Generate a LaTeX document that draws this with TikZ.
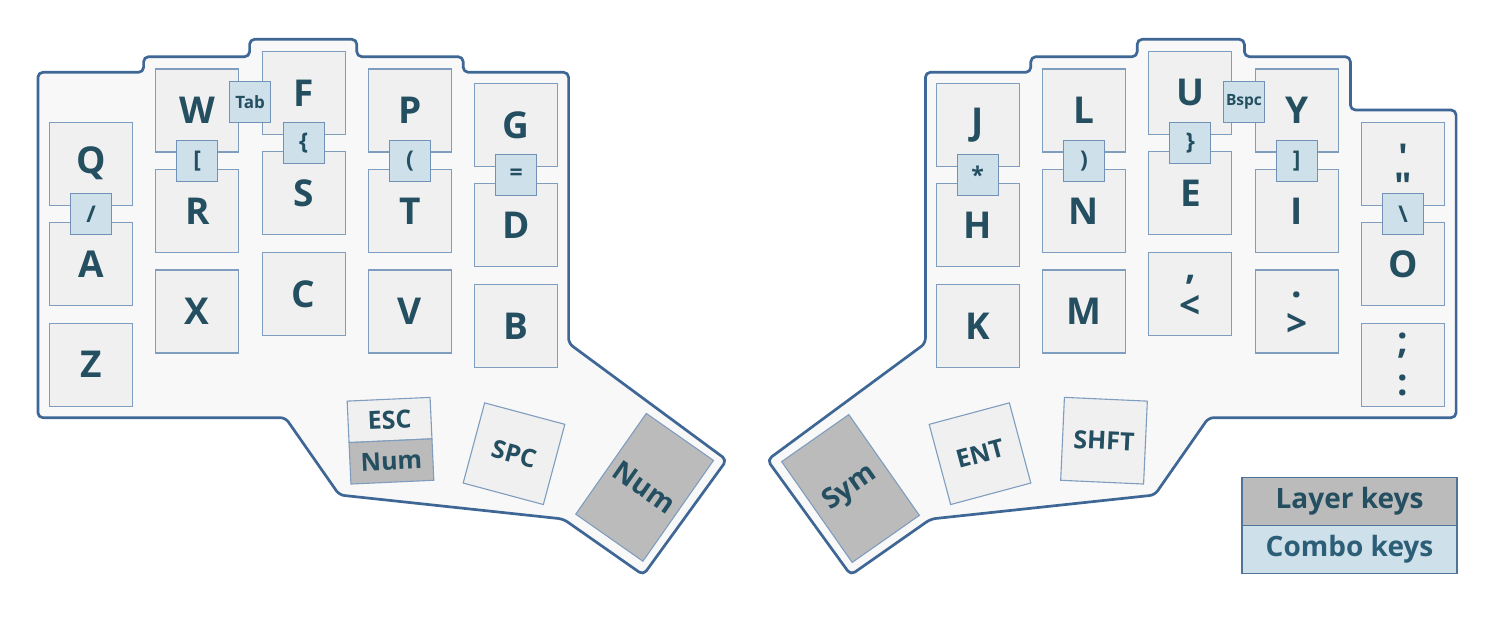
\documentclass[tikz,border=0pt]{standalone}
\usepackage{fontspec}
\newfontfamily\kf{Open Sans}
\newcommand\keysz[1]{\kf\bfseries\fontsize{#1}{#1}\selectfont}
\definecolor{boardfill}{HTML}{F8F8F8}
\definecolor{boardline}{HTML}{3E6795}
\definecolor{keyfill}{HTML}{F0F0F0}
\definecolor{keyline}{HTML}{7F9DBE}
\definecolor{combofill}{HTML}{CEE0EA}
\definecolor{comboline}{HTML}{7192B6}
\definecolor{layerfill}{HTML}{BBBBBB}
\definecolor{txt}{HTML}{244F61}
\definecolor{txtb}{HTML}{2D5E77}
\definecolor{legline}{HTML}{4F7399}
\begin{document}
\begin{tikzpicture}[x=1pt,y=-1pt,
  board/.style={draw=boardline, fill=boardfill, line width=2.7pt, rounded corners=5pt, line join=round},
  key/.style={draw=keyline, fill=keyfill, line width=1.1pt, minimum width=83pt, minimum height=83pt, inner sep=0pt, outer sep=0pt, text=txt, font=\keysz{37}},
  thumb/.style={key, font=\keysz{25}},
  layerkey/.style={key, fill=layerfill, font=\keysz{28}},
  combo/.style={draw=comboline, fill=combofill, line width=1.1pt, minimum width=41pt, minimum height=41pt, inner sep=0pt, text=txt, font=\keysz{23}},
  combosm/.style={combo, font=\keysz{17}},
  combotiny/.style={combo, font=\keysz{15.5}},
  glyph/.style={inner sep=0pt, text=txt, font=\keysz{37}, anchor=base},
  legbox/.style={draw=legline, line width=1.3pt, minimum width=215pt, minimum height=48pt, inner sep=0pt, font=\keysz{28}}
]
\useasboundingbox (0,0) rectangle (1499,634);

% ---------- board outlines ----------
\draw[board] (37.9,72.3) -- (143.6,72.3) -- (143.6,56.7) -- (249.6,56.7) -- (249.6,39.3)
  -- (356.8,39.3) -- (356.8,56.7) -- (463.2,56.7) -- (463.2,72.3) -- (568.6,72.3)
  -- (568.6,343.3) -- (726.7,460) -- (643.3,575) -- (563.3,519) -- (339.3,495)
  -- (285.4,417.7) -- (37.9,417.7) -- cycle;
\draw[board] (925.4,72.3) -- (1030.8,72.3) -- (1030.8,56.7) -- (1137.2,56.7) -- (1137.2,39.3)
  -- (1244.4,39.3) -- (1244.4,56.7) -- (1350.4,56.7) -- (1350.4,110) -- (1456.1,110)
  -- (1456.1,417.7) -- (1208.6,417.7) -- (1154.7,495) -- (930.7,519) -- (850.7,575)
  -- (767.3,460) -- (925.4,343.3) -- cycle;

% ---------- left hand ----------
\node[key] (kQ) at (91,163.7) {Q};
\node[key] (kA) at (91,264.2) {A};
\node[key] (kZ) at (91,364.7) {Z};
\node[key] (kW) at (197.3,110.5) {W};
\node[key] (kR) at (197.3,211) {R};
\node[key] (kX) at (197.3,311.5) {X};
\node[key] (kF) at (303.6,92.8) {F};
\node[key] (kS) at (303.6,193.3) {S};
\node[key] (kC) at (303.6,293.8) {C};
\node[key] (kP) at (410,110.5) {P};
\node[key] (kT) at (410,211) {T};
\node[key] (kV) at (410,311.5) {V};
\node[key] (kG) at (516.3,124.8) {G};
\node[key] (kD) at (516.3,225.3) {D};
\node[key] (kB) at (516.3,325.8) {B};

% ---------- right hand ----------
\node[key] (kJ) at (977.7,124.8) {J};
\node[key] (kH) at (977.7,225.3) {H};
\node[key] (kK) at (977.7,325.8) {K};
\node[key] (kL) at (1084,110.5) {L};
\node[key] (kN) at (1084,211) {N};
\node[key] (kM) at (1084,311.5) {M};
\node[key] (kU) at (1190.4,92.8) {U};
\node[key] (kE) at (1190.4,193.3) {E};
\node[key] (kComma) at (1190.4,293.8) {};
\node[key] (kY) at (1296.7,110.5) {Y};
\node[key] (kI) at (1296.7,211) {I};
\node[key] (kDot) at (1296.7,311.5) {};
\node[key] (kQuote) at (1403,163.7) {};
\node[key] (kO) at (1403,264.2) {O};
\node[key] (kSemi) at (1403,364.7) {};

\node[glyph] (gComma) at (1190.4,279) {,};
\node[glyph] (gLess) at (1190.4,318) {<};
\node[glyph] (gDot) at (1296.7,297) {.};
\node[glyph] (gGreater) at (1296.7,336) {>};
\node[glyph] (gApos) at (1403,170.7) {'};
\node[glyph] (gDquote) at (1403,199.7) {"};
\node[glyph] (gSemi) at (1403,353) {;};
\node[glyph] (gColon) at (1403,395) {:};

% ---------- combos ----------
\node[combo] (cSlash) at (91,213.9) {/};
\node[combo] (cLbrack) at (197.3,160.75) {[};
\node[combosm] (cTab) at (250.2,102) {Tab};
\node[combo] (cLbrace) at (303.6,143.05) {\{};
\node[combo] (cLparen) at (410,160.75) {(};
\node[combo] (cEq) at (516.3,175.05) {=};
\node[combo] (cStar) at (977.7,175.05) {*};
\node[combo] (cRparen) at (1084,160.75) {)};
\node[combo] (cRbrace) at (1190.4,143.05) {\}};
\node[combotiny] (cBspc) at (1244,102) {Bspc};
\node[combo] (cRbrack) at (1296.7,160.75) {]};
\node[combo] (cBslash) at (1403,213.95) {\textbackslash};

% ---------- thumbs left ----------
\begin{scope}[shift={(390.5,440.7)}, rotate=2.6, transform shape]
  \node[thumb, minimum height=41.5pt] (tEsc) at (0,-20.75) {ESC};
  \node[thumb, fill=layerfill, minimum height=41.5pt] (tNumS) at (0,20.75) {Num};
\end{scope}
\node[thumb, rotate=-15] (tSpc) at (514,453.7) {SPC};
\node[layerkey, minimum width=82pt, minimum height=123pt, rotate=-35] (tNum) at (644.6,487.3) {Num};

% ---------- thumbs right ----------
\node[layerkey, minimum width=82pt, minimum height=123pt, rotate=35] (tSym) at (850.5,488.5) {Sym};
\node[thumb, rotate=15] (tEnt) at (980,453.7) {ENT};
\node[thumb, rotate=-2.6] (tShft) at (1104,440.7) {SHFT};

% ---------- legend ----------
\node[legbox, fill=layerfill, text=txt] (legLayer) at (1349.5,501.3) {Layer keys};
\node[legbox, fill=combofill, text=txtb] (legCombo) at (1349.5,549.3) {Combo keys};
\end{tikzpicture}
\end{document}
